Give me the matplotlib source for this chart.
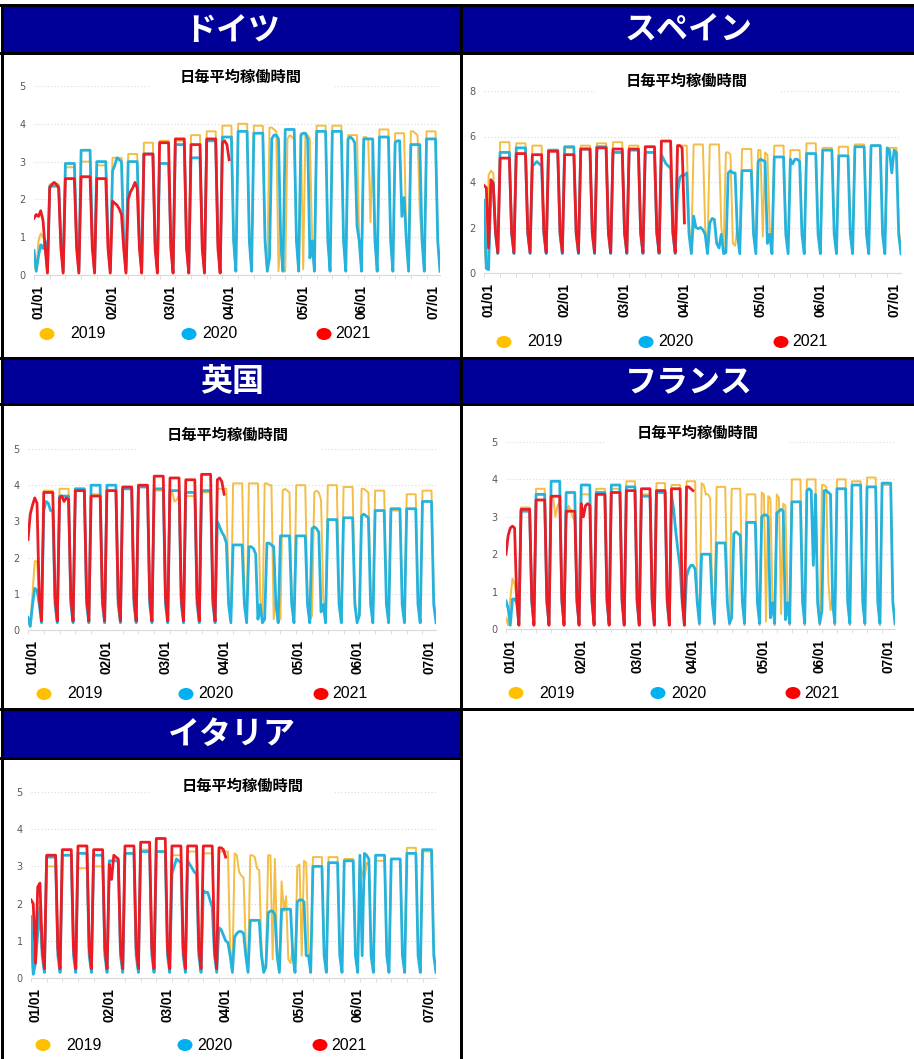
import matplotlib
matplotlib.use('Agg')
import matplotlib.pyplot as plt
from matplotlib.patches import Rectangle, Ellipse
from matplotlib.ticker import MultipleLocator

# weekly values: one number = Mon-Fri level, tuple = Mon..Fri read one by one
# Saturday / Sunday use the series weekend values

# ドイツ
de_2019 = [(0.25, 0.1, 0.9, 1.1, 1.0), 2.4, 2.85, 3.0, 2.9, 3.1, 3.2, 3.5, 3.55, 3.55, 3.7, 3.8, 3.95, 4.0, 3.95,
           (3.9, 3.9, 3.85, 3.8, 0.1), (0.1, 3.6, 3.7, 3.65, 3.6), (3.75, 0.15, 3.75, 3.7, 3.6), 3.95, 3.95, 3.7,
           (3.65, 3.65, 3.6, 1.4, 3.5), 3.85, 3.75, (3.8, 3.8, 3.75, 3.7, 1.65), 3.8]
de_2020 = [(0.65, 0.1, 0.5, 0.8, 0.7), 2.35, 2.95, 3.3, 3.0, (2.75, 2.9, 3.1, 3.05, 3.0), 3.0, 3.2, 2.95, 3.45, 3.1,
           3.55, 3.65, 3.8, 3.75, (0.45, 3.6, 3.7, 3.7, 3.6), 3.85, (3.7, 3.75, 3.75, 3.6, 0.45), 3.8, 3.8,
           (3.6, 3.65, 3.6, 3.5, 1.3), 3.6, 3.65, (3.5, 3.55, 3.55, 1.55, 2.05), 3.45, 3.6]
de_2021 = [(1.5, 1.6, 1.55, 1.7, 1.45), (2.3, 2.4, 2.45, 2.4, 2.3), 2.55, 2.6, 2.55, (1.95, 1.9, 1.85, 1.75, 1.6),
           (2.0, 2.2, 2.3, 2.45, 2.3), 3.2, 3.5, 3.6, 3.45, 3.6, (3.5, 3.55, 3.45, 3.05)]
de_sat = [0.9, 0.9, 0.7]
de_sun = [0.1, 0.1, 0.05]

# スペイン
es_2019 = [(1.4, 0.2, 4.3, 4.5, 4.4), 5.75, 5.7, 5.6, 5.4, 5.5, 5.6, 5.7, 5.75, 5.6, 5.55, 5.8, 5.6, 5.65, 5.65,
           (5.3, 5.3, 5.2, 1.3, 1.2), 5.45, (5.4, 5.4, 1.6, 5.3, 5.2), 5.6, 5.4, 5.7, 5.5, 5.55, 5.65, 5.6, 5.5]
es_2020 = [(3.2, 0.2, 0.15, 3.9, 4.0), 5.3, 5.5, (4.7, 4.8, 4.9, 4.8, 4.7), 5.4, 5.55, 5.45, 5.55, 5.3, 5.4, 5.3,
           (5.2, 5.0, 4.8, 4.7, 4.6), (3.5, 4.2, 4.3, 4.3, 4.4), (2.5, 2.0, 1.95, 2.0, 1.9), (2.2, 2.4, 2.35, 1.3, 1.1),
           (0.9, 4.4, 4.5, 4.4, 4.4), 4.5, (4.9, 5.0, 4.95, 4.9, 1.3), 5.1, (5.0, 4.8, 5.0, 5.0, 4.9), 5.25, 5.4,
           5.15, 5.55, 5.6, (5.5, 5.4, 4.4, 5.4, 5.3)]
es_2021 = [(3.85, 3.75, 1.1, 4.1, 3.9), 5.05, 5.25, 5.2, 5.35, 5.2, 5.45, 5.5, 5.45, 5.45, 5.55, 5.8,
           (5.6, 5.6, 5.5, 2.2)]
es_sat = [2.0, 1.7, 1.8]
es_sun = [1.1, 0.85, 0.9]

# 英国
uk_2019 = [(0.2, 0.1, 1.0, 1.9, 1.9), 3.85, 3.9, 3.9, 3.75, 3.85, 3.9, 3.95, 3.85, (3.85, 3.8, 3.55, 3.6, 3.7), 3.7,
           3.8, 3.9, 4.05, 4.05, (4.05, 4.05, 4.0, 4.0, 0.3), (0.3, 3.85, 3.9, 3.85, 3.8), 4.0,
           (0.4, 3.8, 3.85, 3.8, 3.6), 4.0, 3.95, (0.4, 3.9, 3.9, 3.85, 3.8), 3.85, 3.3, 3.75, 3.85]
uk_2020 = [(0.35, 0.1, 0.7, 1.15, 1.1), (3.3, 3.55, 3.5, 3.3, 3.3), 3.7, 3.9, 4.0, 4.0, 3.9, 3.95, 3.9, 3.85, 3.8,
           3.85, (3.0, 2.85, 2.7, 2.6, 2.4), 2.35, (2.3, 2.3, 2.25, 2.1, 0.3), (0.3, 2.4, 2.4, 2.35, 2.3), 2.6, 2.6,
           (2.8, 2.85, 2.8, 2.7, 0.5), 3.05, 3.1, (0.4, 3.15, 3.2, 3.15, 3.1), 3.3, 3.35, 3.35, 3.55]
uk_2021 = [(2.5, 3.2, 3.45, 3.65, 3.5), 3.8, (3.65, 3.7, 3.55, 3.65, 3.6), 3.85, 3.7, 3.85, 3.95, 4.0, 4.25, 4.2,
           4.15, 4.3, (4.15, 4.2, 4.1, 3.75)]
uk_sat = [0.9, 0.7, 0.9]
uk_sun = [0.25, 0.2, 0.25]

# フランス
fr_2019 = [(0.3, 0.1, 0.8, 1.35, 1.2), 3.25, 3.75, (3.55, 3.5, 3.0, 3.3, 3.4), (2.9, 3.3, 3.2, 3.0, 2.9), 3.6, 3.75,
           3.75, 3.95, 3.6, 3.9, 3.85, 3.95, (3.9, 3.85, 3.6, 3.6, 3.5), 3.8, 3.75, 3.6, (3.65, 3.6, 0.2, 3.55, 3.5),
           (3.6, 3.5, 0.4, 3.35, 3.3), 4.0, 4.0, (3.85, 3.85, 3.8, 1.25, 0.5), 4.0, 3.95, 4.05, 3.85]
fr_2020 = [(0.75, 0.55, 0.1, 0.8, 0.8), 3.15, 3.6, 3.95, 3.65, 3.85, 3.65, 3.85, 3.8, 3.55, 3.65,
           (3.6, 3.2, 2.6, 2.1, 1.65), (1.4, 1.6, 1.7, 1.7, 1.6), 2.0, 2.3, (0.3, 2.55, 2.6, 2.55, 2.5), 2.85,
           (3.0, 3.05, 3.05, 3.0, 0.3), (3.1, 3.15, 3.2, 3.15, 0.25), 3.4, (3.7, 3.75, 3.7, 1.7, 3.6),
           (0.5, 3.7, 3.7, 3.65, 3.6), 3.75, 3.85, 3.8, 3.9]
fr_2021 = [(2.0, 2.5, 2.7, 2.75, 2.7), 3.2, 3.45, 3.55, 3.15, (3.35, 3.0, 3.3, 3.35, 3.3), 3.6, 3.65, 3.7, 3.75,
           3.7, 3.75, (3.8, 3.8, 3.75, 3.7)]
fr_sat = [0.8, 0.7, 0.8]
fr_sun = [0.1, 0.15, 0.1]

# イタリア
it_2019 = [(0.6, 0.1, 1.2, 2.0, 2.05), 3.0, 3.3, 2.95, 3.0, 3.15, 3.35, 3.45, 3.4, 3.3, 3.4, 3.35, 3.4,
           (3.35, 3.3, 2.85, 2.75, 2.7), (3.3, 3.3, 3.25, 2.95, 2.9), (0.4, 3.3, 3.3, 0.5, 3.2),
           (2.6, 1.8, 2.2, 0.5, 0.4), (3.0, 3.05, 0.6, 3.15, 3.1), 3.25, 3.25, 3.2, (3.1, 2.8, 2.65, 3.1, 3.05),
           3.15, 3.2, 3.5, 3.4]
it_2020 = [(1.65, 0.1, 0.4, 1.2, 1.9), 3.25, 3.3, 3.35, 3.3, 3.15, 3.35, 3.4, 3.4, (2.8, 3.0, 3.2, 3.15, 3.1),
           (3.15, 3.05, 2.95, 2.85, 2.8), (2.35, 2.3, 2.3, 2.1, 1.9), (1.35, 1.3, 1.15, 1.0, 0.95),
           (1.1, 1.2, 1.25, 1.25, 1.2), 1.55, (0.3, 1.75, 1.8, 1.8, 1.7), 1.85, (2.05, 2.1, 2.1, 2.05, 0.6), 3.0,
           3.1, 3.15, (3.3, 0.6, 3.35, 3.3, 3.2), 3.3, 3.2, 3.35, 3.45]
it_2021 = [(2.1, 2.0, 0.4, 2.45, 2.55), 3.3, 3.45, 3.55, 3.45, (3.05, 2.65, 3.3, 3.25, 3.2), 3.55, 3.65, 3.75,
           3.55, 3.55, 3.55, (3.5, 3.5, 3.45, 3.25)]
it_sat = [0.8, 0.6, 0.8]
it_sun = [0.2, 0.15, 0.25]

years = ['2019', '2020', '2021']
date_labels = ['01/01', '02/01', '03/01', '04/01', '05/01', '06/01', '07/01']
chart_title = '日毎平均稼働時間'

line_colors = ['#F4BD45', '#25B3DD', '#EC1C24']
dot_colors = ['#FFC000', '#00B0F0', '#FF0000']
line_widths = [1.4, 2.0, 2.0]
HEADER_BLUE = '#000099'
JP = ['Noto Sans CJK JP', 'DejaVu Sans']


def expand(weeks, sat, sun, ndays):
    vals = []
    for w in weeks:
        days = list(w) if isinstance(w, tuple) else [w] * 5
        vals += days + [sat, sun]
    return vals[:ndays]


# name, data, sat, sun, ymax, ystep, axes px (x0, x1, y_at_0, y_at_max), title xy,
# legend (dot x, text x), legend y, header box
panels = [
    ('ドイツ', [de_2019, de_2020, de_2021], de_sat, de_sun, 5, 1, (34, 440, 275, 86), (241, 77),
     [(47, 70), (189, 202), (324, 335)], 334, (4, 460, 7, 52)),
    ('スペイン', [es_2019, es_2020, es_2021], es_sat, es_sun, 8, 2, (484, 901, 273, 91), (687, 81),
     [(504, 527), (646, 658), (781, 792)], 342, (463, 914, 7, 52)),
    ('英国', [uk_2019, uk_2020, uk_2021], uk_sat, uk_sun, 5, 1, (28, 436, 630, 449), (228, 435),
     [(44, 67), (186, 198), (321, 332)], 694, (4, 460, 360, 403)),
    ('フランス', [fr_2019, fr_2020, fr_2021], fr_sat, fr_sun, 5, 1, (506, 895, 629, 442), (698, 433),
     [(516, 539), (658, 671), (793, 804)], 693, (463, 914, 360, 403)),
    ('イタリア', [it_2019, it_2020, it_2021], it_sat, it_sun, 5, 1, (31, 436, 978, 792), (243, 786),
     [(43, 66), (185, 197), (320, 331)], 1045, (4, 460, 711, 757)),
]
tick_days = [2, 35, 61, 87, 120, 146, 178]

W, H = 914, 1059
fig = plt.figure(figsize=(W / 100, H / 100), dpi=100)
fig.patch.set_facecolor('white')

bg = fig.add_axes([0, 0, 1, 1])
bg.set_xlim(0, W)
bg.set_ylim(H, 0)
bg.axis('off')

# frame lines
for y0, y1, x1 in [(4, 7, W), (52, 55, W), (357, 360, W), (403, 406, W), (708, 711, W), (757, 760, 463)]:
    bg.add_patch(Rectangle((0, y0), x1, y1 - y0, color='black', lw=0))
for x0 in [1, 460]:
    bg.add_patch(Rectangle((x0, 4), 3, H, color='black', lw=0))

for name, data, sats, suns, ymax, ystep, (x0, x1, yb, yt), (tx, ty), leg, ly, (hx0, hx1, hy0, hy1) in panels:
    bg.add_patch(Rectangle((hx0, hy0), hx1 - hx0, hy1 - hy0, color=HEADER_BLUE, lw=0))
    bg.text((hx0 + hx1) / 2, (hy0 + hy1) / 2 + 1, name, color='white', fontsize=23, fontweight='bold',
            ha='center', va='center', family=JP)

    ax = fig.add_axes([x0 / W, 1 - yb / H, (x1 - x0) / W, (yb - yt) / H])
    ax.set_facecolor('none')
    for i, weeks in enumerate(data):
        n = 182 if i < 2 else 88
        vals = expand(weeks, sats[i], suns[i], n)
        ax.plot(range(len(vals)), vals, color=line_colors[i], lw=line_widths[i],
                solid_joinstyle='round', zorder=2 + i)
    ax.set_xlim(0, 181)
    ax.set_ylim(0, ymax)
    ax.set_yticks(range(0, ymax + 1, ystep))
    ax.grid(axis='y', color='#d9d9d9', ls=(0, (1, 2)), lw=0.8)
    ax.set_axisbelow(True)
    for s in ['top', 'right', 'left']:
        ax.spines[s].set_visible(False)
    ax.spines['bottom'].set_color('#d9d9d9')
    ax.set_xticks(tick_days)
    ax.set_xticklabels(date_labels, rotation=90, fontsize=9.8, fontweight='bold', family='Liberation Sans')
    ax.xaxis.set_minor_locator(MultipleLocator(7))
    ax.tick_params(axis='x', which='major', length=0, pad=7.5)
    ax.tick_params(axis='x', which='minor', length=3, color='#d9d9d9')
    ax.tick_params(axis='y', length=0, labelsize=7, labelcolor='#595959', pad=6)

    # white box behind the chart title (breaks the top grid line)
    fig.add_artist(Rectangle(((tx - 92) / W, 1 - (ty + 16) / H), 184 / W, 28 / H,
                             transform=fig.transFigure, color='white', lw=0, zorder=1))
    fig.text(tx / W, 1 - ty / H, chart_title, fontsize=11, fontweight='bold', family=JP,
             ha='center', va='center', zorder=3)

    for (dx, txl), yr, c in zip(leg, years, dot_colors):
        bg.add_patch(Ellipse((dx, ly), 15, 12, color=c, lw=0))
        bg.text(txl, ly, yr, fontsize=11.5, family='Liberation Sans', ha='left', va='center')

fig.savefig('out.png', dpi=100, facecolor='white')
